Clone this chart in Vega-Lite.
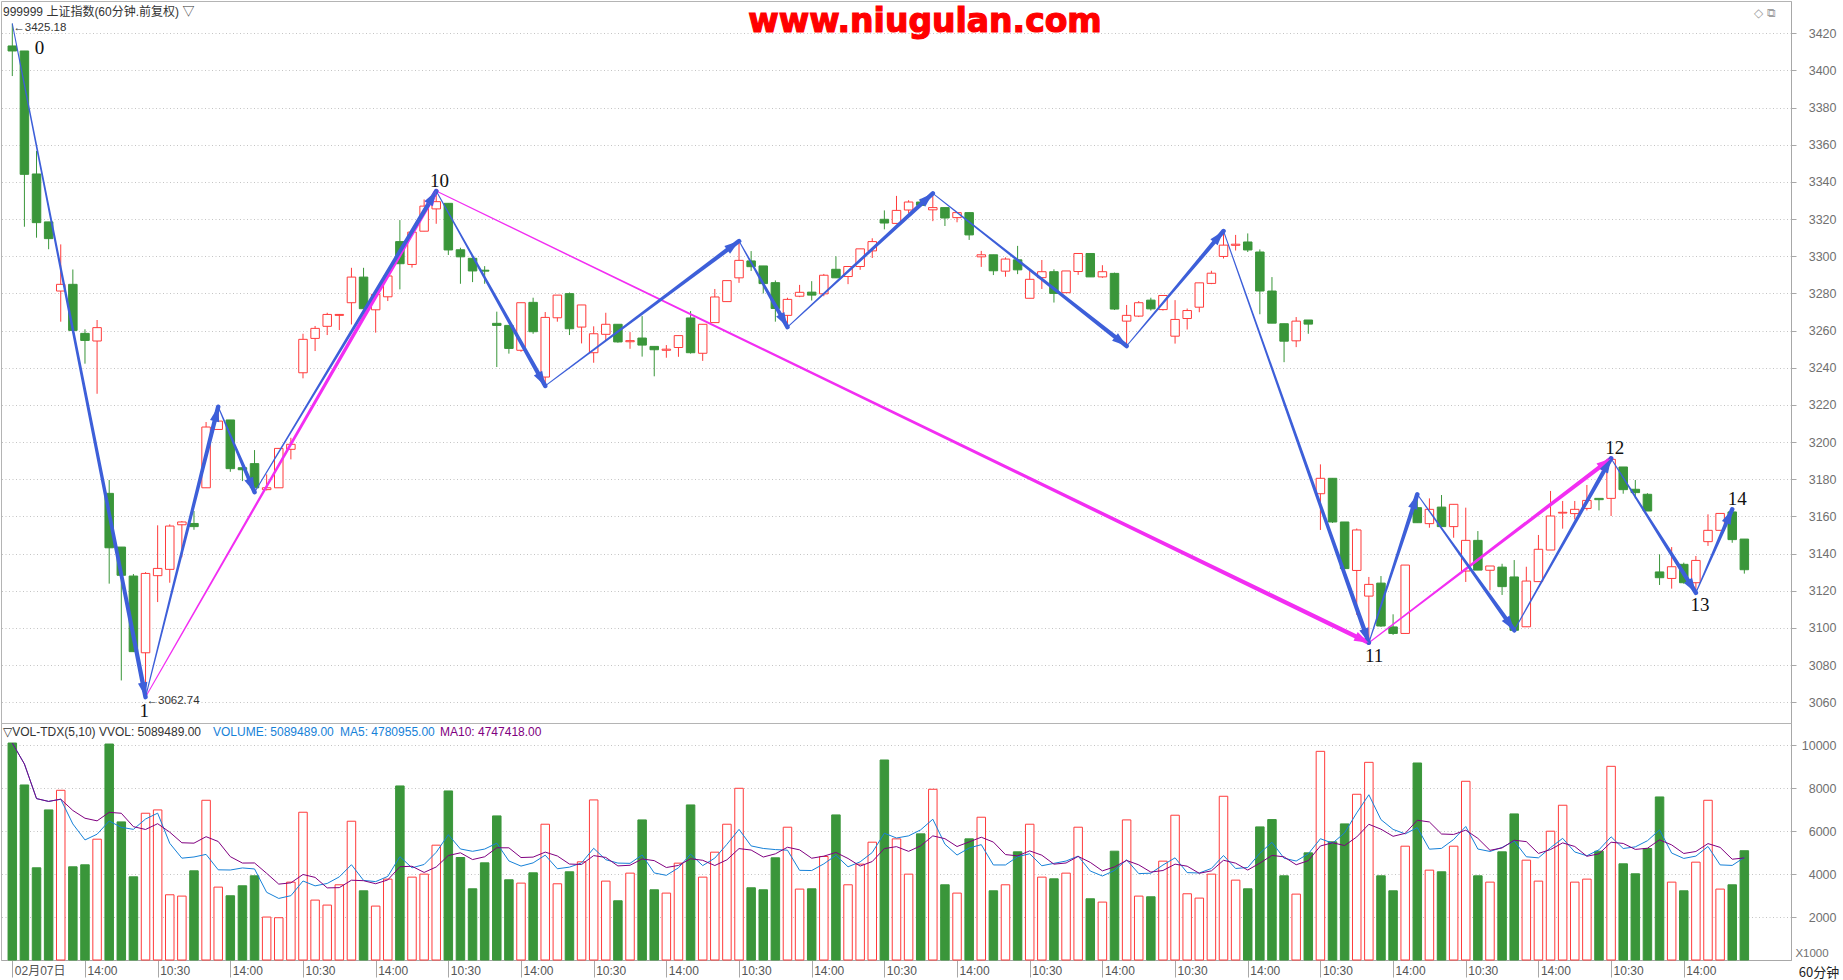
{
  "$schema": "https://vega.github.io/schema/vega-lite/v6.json",
  "padding": 0,
  "background": "#ffffff",
  "spacing": 0,
  "bounds": "flush",
  "config": {"view": {"stroke": "#b4b4b4", "strokeWidth": 1}},
  "datasets": {
    "bars": [
      {"i":0,"o":3413.2,"h":3425.18,"l":3397.0,"c":3410.5,"v":10106},
      {"i":1,"o":3410.5,"h":3410.5,"l":3315.9,"c":3344.1,"v":8153},
      {"i":2,"o":3344.3,"h":3356.7,"l":3310.0,"c":3318.1,"v":4294},
      {"i":3,"o":3318.5,"h":3318.5,"l":3303.8,"c":3309.5,"v":6991},
      {"i":4,"o":3281.3,"h":3306.4,"l":3264.8,"c":3284.9,"v":7905},
      {"i":5,"o":3284.9,"h":3292.9,"l":3260.1,"c":3260.1,"v":4340},
      {"i":6,"o":3258.5,"h":3260.7,"l":3242.2,"c":3254.7,"v":4433},
      {"i":7,"o":3254.4,"h":3265.7,"l":3226.0,"c":3261.6,"v":5627},
      {"i":8,"o":3172.4,"h":3179.6,"l":3123.8,"c":3143.1,"v":10060},
      {"i":9,"o":3143.5,"h":3143.5,"l":3071.7,"c":3128.3,"v":6433},
      {"i":10,"o":3127.9,"h":3129.0,"l":3087.0,"c":3087.2,"v":3875},
      {"i":11,"o":3086.6,"h":3130.0,"l":3062.74,"c":3129.3,"v":6836},
      {"i":12,"o":3128.1,"h":3155.2,"l":3113.9,"c":3132.0,"v":6991},
      {"i":13,"o":3131.5,"h":3155.7,"l":3124.3,"c":3154.8,"v":3038},
      {"i":14,"o":3155.5,"h":3157.5,"l":3138.0,"c":3157.0,"v":2976},
      {"i":15,"o":3156.2,"h":3162.9,"l":3152.8,"c":3154.5,"v":4154},
      {"i":16,"o":3175.4,"h":3210.8,"l":3175.4,"c":3208.1,"v":7440},
      {"i":17,"o":3206.8,"h":3219.0,"l":3206.8,"c":3211.3,"v":3395},
      {"i":18,"o":3211.9,"h":3211.9,"l":3184.0,"c":3185.7,"v":2992},
      {"i":19,"o":3186.2,"h":3186.5,"l":3179.0,"c":3185.1,"v":3457},
      {"i":20,"o":3188.4,"h":3195.7,"l":3173.0,"c":3175.4,"v":3922},
      {"i":21,"o":3174.4,"h":3182.6,"l":3174.0,"c":3175.4,"v":2000},
      {"i":22,"o":3175.4,"h":3196.6,"l":3175.4,"c":3196.6,"v":1969},
      {"i":23,"o":3196.1,"h":3202.3,"l":3190.7,"c":3198.8,"v":3627},
      {"i":24,"o":3237.3,"h":3258.3,"l":3234.3,"c":3255.3,"v":6882},
      {"i":25,"o":3255.8,"h":3262.5,"l":3249.0,"c":3261.2,"v":2790},
      {"i":26,"o":3262.3,"h":3269.6,"l":3257.6,"c":3268.7,"v":2558},
      {"i":27,"o":3268.2,"h":3268.9,"l":3260.3,"c":3268.7,"v":3503},
      {"i":28,"o":3275.0,"h":3293.8,"l":3263.3,"c":3288.8,"v":6464},
      {"i":29,"o":3288.8,"h":3293.8,"l":3271.8,"c":3271.8,"v":3224},
      {"i":30,"o":3271.2,"h":3279.5,"l":3258.9,"c":3279.5,"v":2511},
      {"i":31,"o":3278.2,"h":3289.4,"l":3275.9,"c":3289.4,"v":3767},
      {"i":32,"o":3307.9,"h":3319.5,"l":3282.2,"c":3296.0,"v":8107},
      {"i":33,"o":3295.6,"h":3314.0,"l":3293.9,"c":3313.0,"v":3860},
      {"i":34,"o":3313.5,"h":3330.6,"l":3313.5,"c":3327.0,"v":3999},
      {"i":35,"o":3325.5,"h":3335.1,"l":3317.5,"c":3329.4,"v":5348},
      {"i":36,"o":3328.5,"h":3328.5,"l":3300.7,"c":3303.4,"v":7874},
      {"i":37,"o":3303.5,"h":3304.6,"l":3285.2,"c":3299.7,"v":4774},
      {"i":38,"o":3298.9,"h":3299.3,"l":3286.1,"c":3292.1,"v":3317},
      {"i":39,"o":3292.5,"h":3294.7,"l":3285.2,"c":3292.0,"v":4526},
      {"i":40,"o":3263.9,"h":3270.2,"l":3240.4,"c":3262.8,"v":6712},
      {"i":41,"o":3262.8,"h":3262.8,"l":3247.6,"c":3250.4,"v":3736},
      {"i":42,"o":3249.4,"h":3275.0,"l":3248.6,"c":3275.0,"v":3581},
      {"i":43,"o":3275.2,"h":3277.7,"l":3258.3,"c":3259.4,"v":4061},
      {"i":44,"o":3235.0,"h":3270.0,"l":3230.2,"c":3267.1,"v":6324},
      {"i":45,"o":3266.9,"h":3279.1,"l":3264.8,"c":3279.1,"v":3550},
      {"i":46,"o":3279.9,"h":3280.5,"l":3257.6,"c":3261.0,"v":4108},
      {"i":47,"o":3261.9,"h":3273.8,"l":3253.1,"c":3273.8,"v":4573},
      {"i":48,"o":3248.1,"h":3262.3,"l":3242.7,"c":3258.3,"v":7456},
      {"i":49,"o":3258.0,"h":3269.6,"l":3254.4,"c":3263.4,"v":3674},
      {"i":50,"o":3263.4,"h":3263.4,"l":3253.5,"c":3253.9,"v":2759},
      {"i":51,"o":3254.0,"h":3259.2,"l":3250.2,"c":3254.6,"v":4046},
      {"i":52,"o":3256.0,"h":3267.8,"l":3246.0,"c":3252.2,"v":6526},
      {"i":53,"o":3251.5,"h":3251.5,"l":3235.4,"c":3249.7,"v":3271},
      {"i":54,"o":3249.4,"h":3252.2,"l":3245.4,"c":3250.0,"v":3116},
      {"i":55,"o":3250.9,"h":3257.3,"l":3245.9,"c":3257.3,"v":4511},
      {"i":56,"o":3266.8,"h":3270.5,"l":3247.6,"c":3248.1,"v":7223},
      {"i":57,"o":3247.8,"h":3263.4,"l":3243.7,"c":3263.4,"v":3860},
      {"i":58,"o":3264.3,"h":3282.4,"l":3264.3,"c":3278.1,"v":5022},
      {"i":59,"o":3275.6,"h":3286.9,"l":3275.6,"c":3286.9,"v":6324},
      {"i":60,"o":3288.4,"h":3308.2,"l":3285.7,"c":3297.8,"v":7998},
      {"i":61,"o":3297.5,"h":3302.8,"l":3292.1,"c":3294.4,"v":3364},
      {"i":62,"o":3294.8,"h":3294.8,"l":3280.0,"c":3285.3,"v":3271},
      {"i":63,"o":3285.8,"h":3287.0,"l":3264.8,"c":3271.9,"v":4759},
      {"i":64,"o":3268.2,"h":3277.7,"l":3261.9,"c":3276.8,"v":6185},
      {"i":65,"o":3278.5,"h":3284.6,"l":3278.0,"c":3280.6,"v":3302},
      {"i":66,"o":3280.7,"h":3286.6,"l":3276.2,"c":3279.1,"v":3317},
      {"i":67,"o":3279.8,"h":3290.5,"l":3278.5,"c":3289.8,"v":4821},
      {"i":68,"o":3293.0,"h":3300.0,"l":3288.4,"c":3288.4,"v":6758},
      {"i":69,"o":3289.1,"h":3294.5,"l":3285.0,"c":3294.5,"v":3503},
      {"i":70,"o":3294.5,"h":3304.0,"l":3292.7,"c":3304.0,"v":4464},
      {"i":71,"o":3302.9,"h":3309.7,"l":3299.1,"c":3307.9,"v":5487},
      {"i":72,"o":3319.9,"h":3324.7,"l":3314.5,"c":3317.9,"v":9316},
      {"i":73,"o":3317.7,"h":3332.5,"l":3317.7,"c":3324.7,"v":5642},
      {"i":74,"o":3324.9,"h":3330.2,"l":3323.1,"c":3329.2,"v":3999},
      {"i":75,"o":3329.2,"h":3330.9,"l":3327.0,"c":3327.4,"v":5875},
      {"i":76,"o":3325.0,"h":3333.9,"l":3318.9,"c":3326.2,"v":7952},
      {"i":77,"o":3326.2,"h":3326.2,"l":3316.3,"c":3320.6,"v":3503},
      {"i":78,"o":3320.8,"h":3323.5,"l":3318.3,"c":3323.5,"v":3116},
      {"i":79,"o":3323.5,"h":3323.5,"l":3308.8,"c":3311.5,"v":5642},
      {"i":80,"o":3299.7,"h":3302.9,"l":3294.3,"c":3300.8,"v":6650},
      {"i":81,"o":3300.8,"h":3300.8,"l":3289.9,"c":3292.2,"v":3224},
      {"i":82,"o":3292.0,"h":3299.4,"l":3289.0,"c":3298.5,"v":3503},
      {"i":83,"o":3298.1,"h":3305.6,"l":3290.4,"c":3292.7,"v":5038},
      {"i":84,"o":3277.4,"h":3292.5,"l":3277.4,"c":3287.6,"v":6324},
      {"i":85,"o":3288.5,"h":3298.0,"l":3282.4,"c":3291.7,"v":3860},
      {"i":86,"o":3291.7,"h":3293.0,"l":3275.1,"c":3280.0,"v":3782},
      {"i":87,"o":3280.4,"h":3292.1,"l":3280.4,"c":3292.1,"v":4046},
      {"i":88,"o":3291.8,"h":3301.5,"l":3290.0,"c":3301.5,"v":6185},
      {"i":89,"o":3301.5,"h":3301.5,"l":3288.9,"c":3288.9,"v":2852},
      {"i":90,"o":3288.9,"h":3295.2,"l":3288.4,"c":3291.7,"v":2697},
      {"i":91,"o":3290.8,"h":3291.2,"l":3271.1,"c":3271.6,"v":5069},
      {"i":92,"o":3265.1,"h":3273.8,"l":3251.7,"c":3268.2,"v":6526},
      {"i":93,"o":3267.8,"h":3275.9,"l":3267.3,"c":3275.0,"v":2976},
      {"i":94,"o":3276.4,"h":3277.7,"l":3270.8,"c":3271.7,"v":2945},
      {"i":95,"o":3271.3,"h":3278.9,"l":3270.8,"c":3278.9,"v":4604},
      {"i":96,"o":3257.0,"h":3276.4,"l":3253.0,"c":3266.0,"v":6743},
      {"i":97,"o":3266.5,"h":3271.9,"l":3260.6,"c":3270.8,"v":3085},
      {"i":98,"o":3272.6,"h":3285.7,"l":3269.9,"c":3285.7,"v":2883},
      {"i":99,"o":3285.4,"h":3292.2,"l":3285.0,"c":3290.9,"v":3999},
      {"i":100,"o":3299.9,"h":3313.6,"l":3298.8,"c":3306.0,"v":7626},
      {"i":101,"o":3305.9,"h":3311.5,"l":3303.1,"c":3306.5,"v":3720},
      {"i":102,"o":3307.7,"h":3312.3,"l":3302.3,"c":3303.4,"v":3317},
      {"i":103,"o":3302.3,"h":3303.7,"l":3268.8,"c":3281.3,"v":6200},
      {"i":104,"o":3281.3,"h":3288.8,"l":3264.0,"c":3264.0,"v":6541},
      {"i":105,"o":3263.7,"h":3263.7,"l":3243.0,"c":3254.3,"v":3922},
      {"i":106,"o":3254.5,"h":3267.3,"l":3251.1,"c":3265.1,"v":3069},
      {"i":107,"o":3265.7,"h":3265.7,"l":3258.3,"c":3263.5,"v":4991},
      {"i":108,"o":3172.2,"h":3188.0,"l":3152.7,"c":3180.5,"v":9719},
      {"i":109,"o":3180.5,"h":3180.5,"l":3156.5,"c":3157.0,"v":5503},
      {"i":110,"o":3157.0,"h":3157.0,"l":3131.5,"c":3131.9,"v":6340},
      {"i":111,"o":3130.9,"h":3153.5,"l":3107.0,"c":3152.7,"v":7719},
      {"i":112,"o":3117.1,"h":3127.4,"l":3092.0,"c":3123.4,"v":9207},
      {"i":113,"o":3124.1,"h":3127.9,"l":3100.5,"c":3101.0,"v":3922},
      {"i":114,"o":3100.5,"h":3107.3,"l":3096.2,"c":3097.0,"v":3224},
      {"i":115,"o":3097.0,"h":3133.8,"l":3097.0,"c":3133.8,"v":5301},
      {"i":116,"o":3164.7,"h":3171.9,"l":3156.6,"c":3156.6,"v":9176},
      {"i":117,"o":3156.1,"h":3169.7,"l":3153.9,"c":3163.8,"v":4185},
      {"i":118,"o":3165.0,"h":3171.5,"l":3154.5,"c":3154.5,"v":4108},
      {"i":119,"o":3154.5,"h":3166.5,"l":3148.5,"c":3166.5,"v":5301},
      {"i":120,"o":3130.6,"h":3164.7,"l":3124.7,"c":3147.1,"v":8324},
      {"i":121,"o":3147.1,"h":3152.1,"l":3131.1,"c":3131.1,"v":3922},
      {"i":122,"o":3131.0,"h":3133.3,"l":3120.2,"c":3133.3,"v":3627},
      {"i":123,"o":3132.7,"h":3134.5,"l":3117.7,"c":3122.2,"v":5038},
      {"i":124,"o":3127.4,"h":3136.5,"l":3098.7,"c":3098.7,"v":6805},
      {"i":125,"o":3100.6,"h":3132.9,"l":3100.6,"c":3125.2,"v":4650},
      {"i":126,"o":3124.9,"h":3150.0,"l":3124.9,"c":3142.3,"v":3674},
      {"i":127,"o":3141.9,"h":3173.7,"l":3141.9,"c":3160.2,"v":5999},
      {"i":128,"o":3161.8,"h":3168.3,"l":3153.4,"c":3162.2,"v":7208},
      {"i":129,"o":3161.5,"h":3168.3,"l":3158.4,"c":3163.8,"v":3627},
      {"i":130,"o":3164.3,"h":3176.9,"l":3163.2,"c":3168.6,"v":3767},
      {"i":131,"o":3169.7,"h":3169.7,"l":3163.2,"c":3169.0,"v":5069},
      {"i":132,"o":3169.7,"h":3191.2,"l":3160.2,"c":3190.7,"v":9021},
      {"i":133,"o":3186.6,"h":3186.6,"l":3172.2,"c":3174.4,"v":4480},
      {"i":134,"o":3174.6,"h":3179.6,"l":3169.7,"c":3172.8,"v":4015},
      {"i":135,"o":3171.9,"h":3172.5,"l":3162.9,"c":3162.9,"v":5193},
      {"i":136,"o":3130.1,"h":3139.6,"l":3123.1,"c":3127.0,"v":7595},
      {"i":137,"o":3126.6,"h":3143.5,"l":3121.1,"c":3132.9,"v":3627},
      {"i":138,"o":3134.2,"h":3135.1,"l":3123.8,"c":3124.3,"v":3224},
      {"i":139,"o":3124.3,"h":3138.7,"l":3118.9,"c":3136.3,"v":4557},
      {"i":140,"o":3146.4,"h":3161.1,"l":3144.1,"c":3152.5,"v":7440},
      {"i":141,"o":3152.5,"h":3161.6,"l":3152.5,"c":3161.6,"v":3302},
      {"i":142,"o":3162.4,"h":3163.8,"l":3145.8,"c":3147.5,"v":3503},
      {"i":143,"o":3147.8,"h":3147.8,"l":3129.2,"c":3131.3,"v":5089.489}
    ],
    "waves": [
      {"seg":"m1","k":"m","i":11,"p":3062.74,"end":0},{"seg":"m1","k":"m","i":35,"p":3335.1,"end":1},
      {"seg":"m2","k":"m","i":35,"p":3335.1,"end":0},{"seg":"m2","k":"m","i":112,"p":3092.0,"end":1},
      {"seg":"m3","k":"m","i":112,"p":3092.0,"end":0},{"seg":"m3","k":"m","i":132,"p":3191.2,"end":1},
      {"seg":"b1","k":"b","i":0,"p":3425.18,"end":0},{"seg":"b1","k":"b","i":11,"p":3062.74,"end":1},
      {"seg":"b2","k":"b","i":11,"p":3062.74,"end":0},{"seg":"b2","k":"b","i":17,"p":3219.0,"end":1},
      {"seg":"b3","k":"b","i":17,"p":3219.0,"end":0},{"seg":"b3","k":"b","i":20,"p":3173.0,"end":1},
      {"seg":"b4","k":"b","i":20,"p":3173.0,"end":0},{"seg":"b4","k":"b","i":35,"p":3335.1,"end":1},
      {"seg":"b5","k":"b","i":35,"p":3335.1,"end":0},{"seg":"b5","k":"b","i":44,"p":3230.2,"end":1},
      {"seg":"b6","k":"b","i":44,"p":3230.2,"end":0},{"seg":"b6","k":"b","i":60,"p":3308.2,"end":1},
      {"seg":"b7","k":"b","i":60,"p":3308.2,"end":0},{"seg":"b7","k":"b","i":64,"p":3261.9,"end":1},
      {"seg":"b8","k":"b","i":64,"p":3261.9,"end":0},{"seg":"b8","k":"b","i":76,"p":3333.9,"end":1},
      {"seg":"b9","k":"b","i":76,"p":3333.9,"end":0},{"seg":"b9","k":"b","i":92,"p":3251.7,"end":1},
      {"seg":"b10","k":"b","i":92,"p":3251.7,"end":0},{"seg":"b10","k":"b","i":100,"p":3313.6,"end":1},
      {"seg":"b11","k":"b","i":100,"p":3313.6,"end":0},{"seg":"b11","k":"b","i":112,"p":3092.0,"end":1},
      {"seg":"b12","k":"b","i":112,"p":3092.0,"end":0},{"seg":"b12","k":"b","i":116,"p":3171.9,"end":1},
      {"seg":"b13","k":"b","i":116,"p":3171.9,"end":0},{"seg":"b13","k":"b","i":124,"p":3098.7,"end":1},
      {"seg":"b14","k":"b","i":124,"p":3098.7,"end":0},{"seg":"b14","k":"b","i":132,"p":3191.2,"end":1},
      {"seg":"b15","k":"b","i":132,"p":3191.2,"end":0},{"seg":"b15","k":"b","i":139,"p":3118.9,"end":1},
      {"seg":"b16","k":"b","i":139,"p":3118.9,"end":0},{"seg":"b16","k":"b","i":142,"p":3163.8,"end":1}
    ],
    "labels": [
      {"t":"0","i":2.24,"p":3412.2},
      {"t":"1","i":10.9,"p":3055.4},
      {"t":"10","i":35.28,"p":3340.5},
      {"t":"11","i":112.43,"p":3084.9},
      {"t":"12","i":132.3,"p":3197.0},
      {"t":"13","i":139.34,"p":3112.3},
      {"t":"14","i":142.41,"p":3169.2}
    ],
    "notes": [
      {"t":"←3425.18","i":0,"p":3425.18},
      {"t":"←3062.74","i":11,"p":3062.74}
    ]
  },
  "vconcat": [
    {
      "width": 1790,
      "height": 722,
      "layer": [
        {
          "data": {"name": "bars"},
          "mark": {"type": "rule", "strokeWidth": 1},
          "encoding": {
            "x": {"field": "i", "type": "quantitative", "scale": {"domain": [-0.52, 146.44], "nice": false, "zero": false}, "axis": null},
            "y": {"field": "l", "type": "quantitative", "title": null, "scale": {"domain": [3048.8, 3437.4], "nice": false, "zero": false},
              "axis": {"orient": "right", "values": [3060,3080,3100,3120,3140,3160,3180,3200,3220,3240,3260,3280,3300,3320,3340,3360,3380,3400,3420], "format": "d", "title": null,
                "grid": true, "gridColor": "#c4c4c4", "gridDash": [1, 2.5], "gridWidth": 1,
                "tickSize": 5, "tickColor": "#a8a8a8", "domainColor": "#a8a8a8",
                "labelColor": "#707070", "labelFont": "Liberation Sans", "labelFontSize": 12.5, "labelAlign": "right", "labelBaseline": "middle", "labelPadding": 40}},
            "y2": {"field": "h"},
            "color": {"condition": {"test": "datum.c >= datum.o", "value": "#ff3b3b"}, "value": "#3a963a"}
          }
        },
        {
          "data": {"name": "bars"},
          "mark": {"type": "bar", "size": 8.5, "strokeWidth": 1},
          "encoding": {
            "x": {"field": "i", "type": "quantitative", "axis": null},
            "y": {"field": "o", "type": "quantitative", "title": null},
            "y2": {"field": "c"},
            "fill": {"condition": {"test": "datum.c >= datum.o", "value": "#ffffff"}, "value": "#3a963a"},
            "stroke": {"condition": {"test": "datum.c >= datum.o", "value": "#ff3b3b"}, "value": "#3a963a"}
          }
        },
        {
          "data": {"name": "waves"},
          "mark": {"type": "trail"},
          "encoding": {
            "x": {"field": "i", "type": "quantitative", "axis": null},
            "y": {"field": "p", "type": "quantitative", "title": null},
            "detail": {"field": "seg"},
            "order": {"field": "end", "type": "quantitative"},
            "size": {"field": "end", "type": "quantitative", "scale": {"domain": [0, 1], "range": [1, 4.5]}, "legend": null},
            "color": {"field": "k", "type": "nominal", "scale": {"domain": ["b", "m"], "range": ["#3d5fd9", "#f22ef2"]}, "legend": null}
          }
        },
        {
          "data": {"name": "waves"},
          "transform": [
            {"window": [{"op": "lag", "field": "i", "as": "i0"}, {"op": "lag", "field": "p", "as": "p0"}], "groupby": ["seg"], "sort": [{"field": "end"}]},
            {"filter": "datum.end == 1"},
            {"calculate": "atan2((datum.i - datum.i0) * 12.18, (datum.p - datum.p0) * 1.858) * 180 / PI", "as": "ang"}
          ],
          "mark": {"type": "point", "shape": "M0,0L0.55,1.7L-0.55,1.7Z", "filled": true, "size": 300, "opacity": 1, "strokeWidth": 0},
          "encoding": {
            "x": {"field": "i", "type": "quantitative", "axis": null},
            "y": {"field": "p", "type": "quantitative", "title": null},
            "angle": {"field": "ang", "type": "quantitative", "scale": null},
            "color": {"field": "k", "type": "nominal", "legend": null}
          }
        },
        {
          "data": {"name": "labels"},
          "mark": {"type": "text", "font": "Liberation Serif", "fontSize": 19, "color": "#111111", "align": "center", "baseline": "middle"},
          "encoding": {
            "x": {"field": "i", "type": "quantitative", "axis": null},
            "y": {"field": "p", "type": "quantitative", "title": null},
            "text": {"field": "t"}
          }
        },
        {
          "data": {"name": "notes"},
          "mark": {"type": "text", "font": "Liberation Sans", "fontSize": 11.5, "color": "#333333", "align": "left", "baseline": "middle", "dx": 1, "dy": 4},
          "encoding": {
            "x": {"field": "i", "type": "quantitative", "axis": null},
            "y": {"field": "p", "type": "quantitative", "title": null},
            "text": {"field": "t"}
          }
        },
        {
          "data": {"values": [{"t": "999999 上证指数(60分钟.前复权) ▽"}]},
          "mark": {"type": "text", "x": 2, "y": 11, "align": "left", "baseline": "middle", "font": "Liberation Sans, Noto Sans CJK SC", "fontSize": 12, "color": "#333333"},
          "encoding": {"text": {"field": "t"}}
        },
        {
          "data": {"values": [{"t": "www.niugulan.com"}]},
          "mark": {"type": "text", "x": 924, "y": 21, "align": "center", "baseline": "middle", "font": "DejaVu Sans", "fontWeight": "bold", "fontSize": 33, "fill": "#ff0000", "stroke": "#ff0000", "strokeWidth": 1.2},
          "encoding": {"text": {"field": "t"}}
        },
        {
          "data": {"values": [{"t": "◇ ⧉"}]},
          "mark": {"type": "text", "x": 1764, "y": 12, "align": "center", "baseline": "middle", "font": "DejaVu Sans", "fontSize": 12, "color": "#a0a0a0"},
          "encoding": {"text": {"field": "t"}}
        }
      ]
    },
    {
      "width": 1790,
      "height": 237,
      "layer": [
        {
          "data": {"name": "bars"},
          "mark": {"type": "bar", "size": 8.5, "strokeWidth": 1},
          "encoding": {
            "x": {"field": "i", "type": "quantitative", "title": null, "scale": {"domain": [-0.52, 146.44], "nice": false, "zero": false},
              "axis": {"values": [0,6,12,18,24,30,36,42,48,54,60,66,72,78,84,90,96,102,108,114,120,126,132,138],
                "labelExpr": "datum.value == 0 ? '02月07日' : ((datum.value / 6) % 2 == 1 ? '14:00' : '10:30')",
                "title": null, "grid": false, "tickSize": 17, "tickColor": "#a8a8a8", "domainColor": "#a8a8a8",
                "labelAlign": "left", "labelBaseline": "top", "labelPadding": -12, "labelOffset": 2,
                "labelFont": "Liberation Sans, Noto Sans CJK SC", "labelFontSize": 12, "labelColor": "#555555",
                "labelOverlap": false, "labelFlush": false, "labelBound": false}},
            "y": {"field": "v", "type": "quantitative", "title": null, "scale": {"domain": [0, 11039], "nice": false, "zero": true},
              "axis": {"orient": "right", "values": [2000, 4000, 6000, 8000, 10000], "format": "d", "title": null,
                "grid": true, "gridColor": "#c4c4c4", "gridDash": [1, 2.5], "gridWidth": 1,
                "tickSize": 5, "tickColor": "#a8a8a8", "domainColor": "#a8a8a8",
                "labelColor": "#707070", "labelFont": "Liberation Sans", "labelFontSize": 12.5, "labelAlign": "right", "labelBaseline": "middle", "labelPadding": 40}},
            "fill": {"condition": {"test": "datum.c >= datum.o", "value": "#ffffff"}, "value": "#3a963a"},
            "stroke": {"condition": {"test": "datum.c >= datum.o", "value": "#ff3b3b"}, "value": "#3a963a"}
          }
        },
        {
          "data": {"name": "bars"},
          "transform": [{"window": [{"op": "mean", "field": "v", "as": "ma5"}], "frame": [-4, 0], "sort": [{"field": "i"}]}],
          "mark": {"type": "line", "color": "#1681d8", "strokeWidth": 1},
          "encoding": {
            "x": {"field": "i", "type": "quantitative", "title": null},
            "y": {"field": "ma5", "type": "quantitative", "title": null}
          }
        },
        {
          "data": {"name": "bars"},
          "transform": [{"window": [{"op": "mean", "field": "v", "as": "ma10"}], "frame": [-9, 0], "sort": [{"field": "i"}]}],
          "mark": {"type": "line", "color": "#800080", "strokeWidth": 1},
          "encoding": {
            "x": {"field": "i", "type": "quantitative", "title": null},
            "y": {"field": "ma10", "type": "quantitative", "title": null}
          }
        },
        {
          "data": {"values": [{"t": "▽VOL-TDX(5,10)  VVOL: 5089489.00"}]},
          "mark": {"type": "text", "x": 2, "y": 9, "align": "left", "baseline": "middle", "font": "Liberation Sans, DejaVu Sans", "fontSize": 12, "color": "#333333"},
          "encoding": {"text": {"field": "t"}}
        },
        {
          "data": {"values": [{"t": "VOLUME: 5089489.00"}]},
          "mark": {"type": "text", "x": 212, "y": 9, "align": "left", "baseline": "middle", "font": "Liberation Sans", "fontSize": 12, "color": "#1681d8"},
          "encoding": {"text": {"field": "t"}}
        },
        {
          "data": {"values": [{"t": "MA5: 4780955.00"}]},
          "mark": {"type": "text", "x": 339, "y": 9, "align": "left", "baseline": "middle", "font": "Liberation Sans", "fontSize": 12, "color": "#1681d8"},
          "encoding": {"text": {"field": "t"}}
        },
        {
          "data": {"values": [{"t": "MA10: 4747418.00"}]},
          "mark": {"type": "text", "x": 439, "y": 9, "align": "left", "baseline": "middle", "font": "Liberation Sans", "fontSize": 12, "color": "#800080"},
          "encoding": {"text": {"field": "t"}}
        },
        {
          "data": {"values": [{"t": "X1000"}]},
          "mark": {"type": "text", "x": 1811, "y": 231, "align": "center", "baseline": "middle", "font": "Liberation Sans", "fontSize": 11.5, "color": "#707070"},
          "encoding": {"text": {"field": "t"}}
        },
        {
          "data": {"values": [{"t": "60分钟"}]},
          "mark": {"type": "text", "x": 1818, "y": 250, "align": "center", "baseline": "middle", "font": "Noto Sans CJK SC", "fontSize": 13, "color": "#222222"},
          "encoding": {"text": {"field": "t"}}
        }
      ]
    }
  ]
}
